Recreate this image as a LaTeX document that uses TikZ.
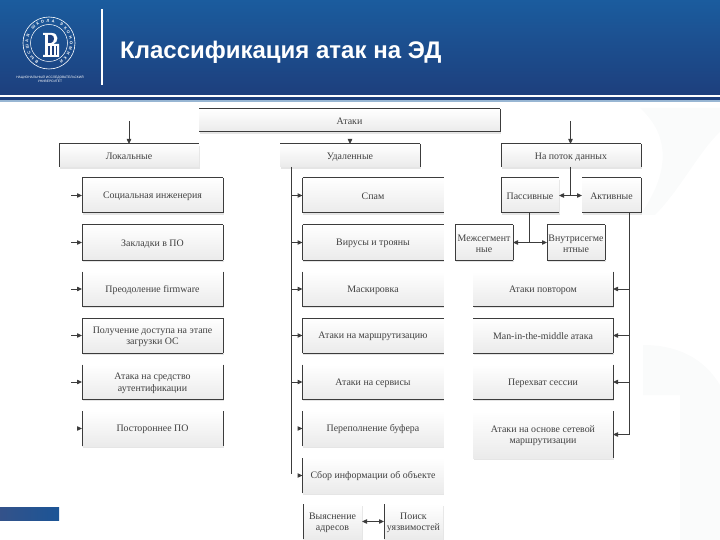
\documentclass[tikz,border=0pt]{standalone}
\usepackage{fontspec}
\setmainfont{Liberation Serif}
\newfontfamily\titlefont{Liberation Sans}
\usetikzlibrary{arrows.meta,shadows,decorations.text}
\definecolor{bandtop}{HTML}{1B5C9E}
\definecolor{bandbot}{HTML}{1D3F7D}
\definecolor{ink}{HTML}{3C3C3C}
\definecolor{pale}{HTML}{FAFBFB}

\begin{document}
\begin{tikzpicture}[
  x=1pt, y=-1pt, >={Triangle[length=5pt,width=4.4pt]},
  font=\fontsize{9.9}{11.5}\selectfont,
  card/.style={top color=white,bottom color=black!8,text=black!75,align=center,inner sep=0pt,outer sep=0pt,text height=9pt,
    drop shadow={shadow xshift=0.6pt,shadow yshift=-1.6pt,fill=black!25,opacity=.4}},
  twoline/.style={text height=20.5pt},
  head/.style={card,minimum width=140pt,minimum height=23pt},
  wide/.style={card,minimum width=141pt,minimum height=35pt},
  half/.style={card,minimum width=58pt,minimum height=35pt},
  edge/.style={ink,line width=1pt},
  link/.style={ink,line width=1pt},
  tiplink/.style={link,->},
]
\useasboundingbox (0,0) rectangle (720,540);

% pale watermark behind the chart
\fill[pale] (640,108) -- (720,108) -- (720,132) .. controls (700,150) and (680,190) .. (655,215) -- (640,215) .. controls (665,180) and (675,140) .. (640,108);
\fill[pale] (643,345) .. controls (680,345) and (705,360) .. (720,385) -- (720,540) -- (680,540) -- (680,395) -- (643,395) -- cycle;

% ---- header band ----
\shade[top color=bandtop,bottom color=bandbot] (0,0) rectangle (720,95);
\fill[bandbot] (0,97) rectangle (720,100);
\fill[bandtop!45!white] (0,100) rectangle (720,102);
\draw[white,line width=1.3pt] (102,9) -- (102,85);
\node[anchor=west,text=white,inner sep=0pt,font=\titlefont\bfseries\fontsize{24}{28}\selectfont] (title) at (120,52) {Классификация атак на ЭД};

% logo
\coordinate (logo) at (49,43);
\draw[white,line width=0.6pt] (logo) circle[radius=26pt];
\draw[white,line width=0.5pt] (logo) circle[radius=18.5pt];
\path[decorate,decoration={text along path,text color=white,text align={fit to path},
  text={|\titlefont\bfseries\fontsize{4}{4}\selectfont|ВЫСШАЯ ШКОЛА ЭКОНОМИКИ}}]
  ([shift={(240:20.8pt)}]logo) arc[start angle=240,end angle=-60,radius=20.8pt];
\fill[white] (43,33) -- (52,33) .. controls (59,33) and (59,43) .. (53,44) -- (59,44) -- (59,57) -- (43,57) -- (43,55) -- (45,55) -- (45,35) -- (43,35) -- cycle;
\fill[bandbot] (48,35) -- (51,35) .. controls (55,35) and (55,42) .. (51,43) -- (48,43) -- cycle;
\fill[bandbot] (48,46) rectangle (49.5,55);
\fill[bandbot] (52,46) rectangle (53.5,55);
\fill[bandbot] (55.5,46) rectangle (57,55);
\node[text=white,align=center,inner sep=0pt,font=\titlefont\fontsize{3.3}{4.2}\selectfont] (uni) at (50,79) {НАЦИОНАЛЬНЫЙ ИССЛЕДОВАТЕЛЬСКИЙ\\УНИВЕРСИТЕТ};

% footer mark
\shade[left color=bandbot!90!white,right color=bandtop!75!bandbot] (0,507) rectangle (59,520);

% ---- top level ----
\node[card,minimum width=301pt,minimum height=23pt] (attacks) at (349.5,120.5) {Атаки};
\node[head] (local) at (129,155.5) {Локальные};
\node[head] (remote) at (350,155.5) {Удаленные};
\node[head] (stream) at (571,155.5) {На поток данных};

% ---- left column ----
\foreach \name/\y/\label in {social/195.5/{Социальная инженерия},bookmark/242.5/{Закладки в ПО},firmware/289/{Преодоление firmware},foreign/428.5/{Постороннее ПО}}{
  \node[wide] (\name) at (152.5,\y) {\label};
}
\node[wide,twoline] (boot) at (152.5,335.5) {Получение доступа на этапе\\загрузки ОС};
\node[wide,twoline] (auth) at (152.5,382) {Атака на средство\\аутентификации};

% ---- middle column ----
\foreach \name/\y/\label in {spam/195.5/{Спам},virus/242.5/{Вирусы и трояны},mask/289/{Маскировка},route/335.5/{Атаки на маршрутизацию},service/382/{Атаки на сервисы},overflow/428.5/{Переполнение буфера},gather/475.5/{Сбор информации об объекте}}{
  \node[wide] (\name) at (373,\y) {\label};
}
\node[half,twoline,minimum width=59pt] (address) at (332.5,521.5) {Выяснение\\адресов};
\node[half,twoline,minimum width=59pt] (vuln) at (413.5,521.5) {Поиск\\уязвимостей};

% ---- right column ----
\node[half] (passive) at (530,195.5) {Пассивные};
\node[half,minimum width=59pt] (active) at (611.5,195.5) {Активные};
\node[half,twoline] (inter) at (484,242.5) {Межсегмент\\ные};
\node[half,twoline] (intra) at (576,242.5) {Внутрисегме\\нтные};
\foreach \name/\y/\label in {replay/289/{Атаки повтором},mitm/335.5/{Man-in-the-middle атака},hijack/382/{Перехват сессии}}{
  \node[wide,minimum width=140pt] (\name) at (543,\y) {\label};
}
\node[wide,twoline,minimum width=140pt,minimum height=47pt] (netroute) at (543,434.5) {Атаки на основе сетевой\\маршрутизации};

% ---- box outlines, side by side ----
\foreach \n in {attacks,local,remote,stream,social,bookmark,boot,spam,virus,route,passive,active,inter,intra,mitm}
  \draw[edge] (\n.north west) -- (\n.north east);
\foreach \n in {attacks,social,bookmark,firmware,boot,auth,spam,virus,mask,route,service,passive,active,inter,intra,replay,mitm,hijack}
  \draw[edge] (\n.south west) -- (\n.south east);
\foreach \n in {local,stream,social,bookmark,firmware,boot,auth,foreign,spam,virus,mask,route,service,overflow,gather,address,vuln,passive,inter,intra}
  \draw[edge] (\n.north west) -- (\n.south west);
\foreach \n in {attacks,remote,stream,social,bookmark,firmware,boot,auth,foreign,active,inter,intra,replay,mitm,hijack,netroute}
  \draw[edge] (\n.north east) -- (\n.south east);

% ---- connectors ----
\coordinate (localstart) at (129,121);
\coordinate (streamstart) at (570.5,121);
\draw[tiplink] (localstart) -- (local.north);
\draw[tiplink] (streamstart) -- (stream.north -| streamstart);
\draw[tiplink] ([yshift=5pt]remote.north) -- (remote.north);

% left stubs
\foreach \n in {social,bookmark,firmware,boot,auth}
  \draw[tiplink] ([xshift=-11pt]\n.west) -- (\n.west);
\draw[tiplink] ([xshift=-5pt]foreign.west) -- (foreign.west);

% middle trunk
\coordinate (remtrunk) at (291,474);
\draw[link] (remote.south -| remtrunk) -- (remtrunk);
\foreach \n in {spam,virus,mask,route,service}
  \draw[tiplink] (remtrunk |- \n.west) -- (\n.west);
\foreach \n in {overflow,gather}
  \draw[tiplink] ([xshift=-5pt]\n.west) -- (\n.west);
\draw[tiplink,<->] (address.east) -- (vuln.west);

% right side
\coordinate (splitup) at (570.5,195.5);
\draw[link] (stream.south -| splitup) -- (splitup);
\draw[tiplink] (splitup) -- (passive.east);
\draw[tiplink] (splitup) -- (active.west);
\coordinate (splitdown) at (529.7,242.5);
\draw[link] (passive.south -| splitdown) -- (splitdown);
\draw[tiplink] (splitdown) -- (inter.east);
\draw[tiplink] (splitdown) -- (intra.west);

\coordinate (acttrunk) at (629,434.5);
\draw[link] (active.south -| acttrunk) -- (acttrunk);
\foreach \n in {replay,mitm,hijack,netroute}
  \draw[tiplink] (acttrunk |- \n.east) -- (\n.east);
\end{tikzpicture}
\end{document}
